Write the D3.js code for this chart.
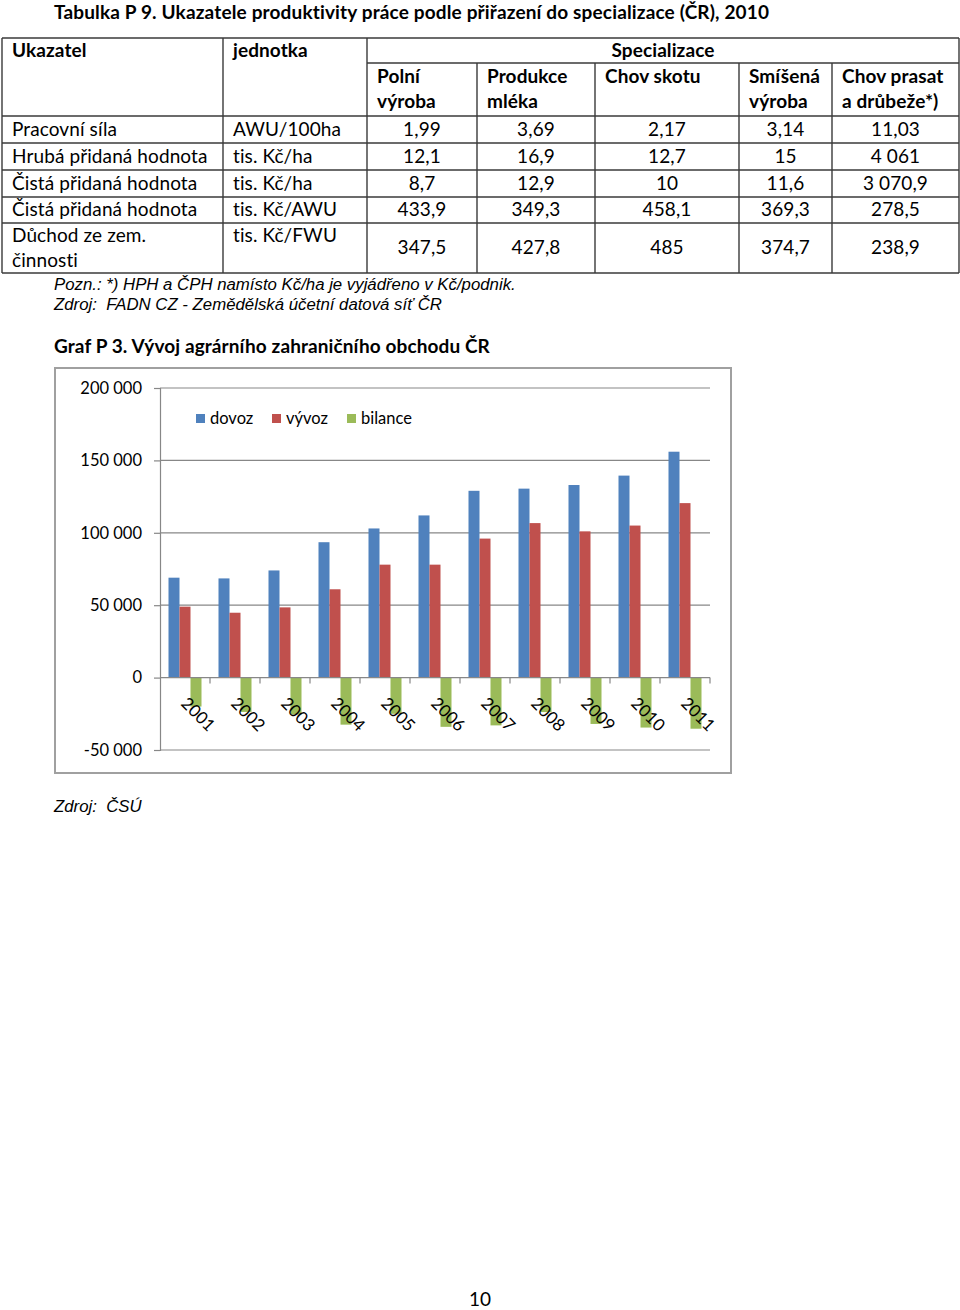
<!DOCTYPE html>
<html>
<head>
<meta charset="utf-8">
<script src="https://cdnjs.cloudflare.com/ajax/libs/d3/7.8.5/d3.min.js"></script>
<style>
  body { margin: 0; background: #fff; }
  svg { display: block; }
  .cal { font-family: Lato, "Open Sans", sans-serif; }
  .ari { font-family: "Liberation Sans", Arial, sans-serif; }
</style>
</head>
<body>
<svg id="page" width="960" height="1310"></svg>
<script>
// table data
var tableTitle = "Tabulka P 9. Ukazatele produktivity práce podle přiřazení do specializace (ČR), 2010";
var specHeaders = [["Polní", "výroba"], ["Produkce", "mléka"], ["Chov skotu"], ["Smíšená", "výroba"], ["Chov prasat", "a drůbeže*)"]];
var rowLabels = [["Pracovní síla"], ["Hrubá přidaná hodnota"], ["Čistá přidaná hodnota"], ["Čistá přidaná hodnota"], ["Důchod ze zem.", "činnosti"]];
var rowUnits = ["AWU/100ha", "tis. Kč/ha", "tis. Kč/ha", "tis. Kč/AWU", "tis. Kč/FWU"];
var rowValues = [
  ["1,99", "3,69", "2,17", "3,14", "11,03"],
  ["12,1", "16,9", "12,7", "15", "4 061"],
  ["8,7", "12,9", "10", "11,6", "3 070,9"],
  ["433,9", "349,3", "458,1", "369,3", "278,5"],
  ["347,5", "427,8", "485", "374,7", "238,9"]
];

// chart data
var years = ["2001", "2002", "2003", "2004", "2005", "2006", "2007", "2008", "2009", "2010", "2011"];
var series = ["dovoz", "vývoz", "bilance"];
var dovoz = [69000, 68500, 74000, 93500, 103000, 112000, 129000, 130500, 133000, 139500, 156000];
var vyvoz = [49000, 44800, 48500, 61000, 78000, 78000, 96000, 106700, 101000, 105000, 120500];
var bilance = [-20000, -23700, -25500, -32500, -25000, -34000, -33000, -23800, -32000, -34500, -35300];
var yTicks = [-50000, 0, 50000, 100000, 150000, 200000];

var svg = d3.select("#page");
var lineCol = "#3a3a3a";
var fs = 19;

// ---- table ----
svg.append("text")
  .attr("class", "cal")
  .attr("x", 54).attr("y", 19)
  .attr("font-size", 19).attr("letter-spacing", 0.15).attr("font-weight", "bold")
  .text(tableTitle);

var colX = [2, 223, 367, 477, 595, 739, 832, 959];
var rowY = [38, 63, 116, 143, 170, 197, 223, 273];

var tbl = svg.append("g").attr("class", "cal").attr("letter-spacing", 0.1);

// horizontal lines
rowY.forEach(function(y, i) {
  tbl.append("line")
    .attr("x1", i == 1 ? colX[2] : colX[0]).attr("x2", colX[7])
    .attr("y1", y).attr("y2", y)
    .attr("stroke", lineCol).attr("stroke-width", 1.4);
});
// vertical lines
colX.forEach(function(x, i) {
  var top = (i >= 3 && i <= 6) ? rowY[1] : rowY[0];
  tbl.append("line")
    .attr("x1", x).attr("x2", x)
    .attr("y1", top).attr("y2", rowY[7])
    .attr("stroke", lineCol).attr("stroke-width", 1.4);
});

tbl.append("text").attr("x", 12).attr("y", 57).attr("font-size", fs).attr("font-weight", "bold").text("Ukazatel");
tbl.append("text").attr("x", 233).attr("y", 57).attr("font-size", fs).attr("font-weight", "bold").text("jednotka");
tbl.append("text").attr("x", (colX[2] + colX[7]) / 2).attr("y", 57).attr("text-anchor", "middle")
  .attr("font-size", fs).attr("font-weight", "bold").text("Specializace");

specHeaders.forEach(function(h, i) {
  h.forEach(function(line, j) {
    tbl.append("text")
      .attr("x", colX[i + 2] + 10).attr("y", 83 + j * 25)
      .attr("font-size", fs).attr("font-weight", "bold")
      .text(line);
  });
});

rowLabels.forEach(function(lab, r) {
  var y0 = rowY[r + 2], y1 = rowY[r + 3];
  var mid = (y0 + y1) / 2 + 6;
  lab.forEach(function(line, j) {
    tbl.append("text")
      .attr("x", 12).attr("y", lab.length > 1 ? y0 + 19 + j * 25 : mid)
      .attr("font-size", fs).text(line);
  });
  tbl.append("text")
    .attr("x", 233).attr("y", lab.length > 1 ? y0 + 19 : mid)
    .attr("font-size", fs).text(rowUnits[r]);
  rowValues[r].forEach(function(v, c) {
    tbl.append("text")
      .attr("x", (colX[c + 2] + colX[c + 3]) / 2).attr("y", mid)
      .attr("text-anchor", "middle")
      .attr("font-size", fs).text(v);
  });
});

svg.append("text").attr("class", "ari").attr("x", 54).attr("y", 290)
  .attr("font-size", 16.8).attr("font-style", "italic")
  .text("Pozn.: *) HPH a ČPH namísto Kč/ha je vyjádřeno v Kč/podnik.");
svg.append("text").attr("class", "ari").attr("x", 54).attr("y", 310)
  .attr("font-size", 16.8).attr("font-style", "italic").attr("xml:space", "preserve")
  .text("Zdroj:  FADN CZ - Zemědělská účetní datová síť ČR");

// ---- chart ----
svg.append("text")
  .attr("class", "cal")
  .attr("x", 54).attr("y", 353)
  .attr("font-size", 19).attr("letter-spacing", 0.1).attr("font-weight", "bold")
  .text("Graf P 3. Vývoj agrárního zahraničního obchodu ČR");

svg.append("rect")
  .attr("x", 55).attr("y", 368).attr("width", 676).attr("height", 405)
  .attr("fill", "none").attr("stroke", "#a0a0a0").attr("stroke-width", 2);

var plotL = 160, plotR = 710, plotT = 388, plotB = 750;

var y = d3.scaleLinear()
  .domain([-50000, 200000])
  .range([plotB, plotT]);

var x0 = d3.scaleBand()
  .domain(years)
  .range([plotL, plotR])
  .paddingInner(0.34)
  .paddingOuter(0.17);

var xCat = d3.scaleBand()
  .domain(years)
  .range([plotL, plotR]);

var x1 = d3.scaleBand()
  .domain(series)
  .range([0, x0.bandwidth()]);

var color = d3.scaleOrdinal()
  .domain(series)
  .range(["#4f81bd", "#c0504d", "#9bbb59"]);

var chart = svg.append("g").attr("class", "cal");

// gridlines
chart.append("g")
  .selectAll("line")
  .data(yTicks.filter(function(d) { return d != 0; }))
  .enter()
  .append("line")
    .attr("x1", plotL).attr("x2", plotR)
    .attr("y1", function(d) { return y(d); })
    .attr("y2", function(d) { return y(d); })
    .attr("stroke", "#878787").attr("stroke-width", 1.2);

// y axis
var fmt = function(d) { return d3.format(",")(d).replace(/,/g, " ").replace("−", "-"); };
var yAxis = chart.append("g")
  .attr("transform", "translate(" + plotL + ",0)")
  .call(d3.axisLeft(y).tickValues(yTicks).tickSize(6).tickPadding(12).tickFormat(fmt));
yAxis.select(".domain").attr("stroke", "#878787").attr("stroke-width", 1.2);
yAxis.selectAll(".tick line").attr("stroke", "#878787").attr("stroke-width", 1.2);
yAxis.selectAll(".tick text")
  .attr("font-family", "Lato, sans-serif")
  .attr("font-size", 16.5).attr("fill", "#000");

// bars
var rows = years.map(function(yr, i) {
  return {year: yr, dovoz: dovoz[i], "vývoz": vyvoz[i], bilance: bilance[i]};
});

chart.append("g")
  .selectAll("g")
  .data(rows)
  .enter()
  .append("g")
    .attr("transform", function(d) { return "translate(" + x0(d.year) + ",0)"; })
  .selectAll("rect")
  .data(function(d) { return series.map(function(k) { return {key: k, value: d[k]}; }); })
  .enter()
  .append("rect")
    .attr("x", function(d) { return x1(d.key); })
    .attr("y", function(d) { return y(Math.max(0, d.value)); })
    .attr("width", x1.bandwidth())
    .attr("height", function(d) { return Math.abs(y(d.value) - y(0)); })
    .attr("fill", function(d) { return color(d.key); });

// category axis at zero
var xAxis = chart.append("g").attr("transform", "translate(0," + y(0) + ")");
xAxis.append("line")
  .attr("x1", plotL).attr("x2", plotR)
  .attr("stroke", "#878787").attr("stroke-width", 1.2);
xAxis.selectAll(".tk")
  .data(years.slice(1).concat(["end"]))
  .enter()
  .append("line")
    .attr("x1", function(d, i) { return plotL + xCat.step() * (i + 1); })
    .attr("x2", function(d, i) { return plotL + xCat.step() * (i + 1); })
    .attr("y1", 0).attr("y2", 6)
    .attr("stroke", "#878787").attr("stroke-width", 1.2);

xAxis.selectAll(".lab")
  .data(years)
  .enter()
  .append("text")
    .attr("transform", function(d) {
      return "translate(" + (xCat(d) + xCat.bandwidth() / 2 - 5) + ",27) rotate(45)";
    })
    .attr("font-size", 17)
    .text(function(d) { return d; });

// legend
var legX = [196, 272, 347];
var leg = chart.append("g")
  .selectAll("g")
  .data(series)
  .enter()
  .append("g")
    .attr("transform", function(d, i) { return "translate(" + legX[i] + ",414)"; });
leg.append("rect").attr("width", 9).attr("height", 9).attr("fill", function(d) { return color(d); });
leg.append("text").attr("x", 14).attr("y", 10).attr("font-size", 16.5).text(function(d) { return d; });

svg.append("text").attr("class", "ari").attr("x", 54).attr("y", 812)
  .attr("font-size", 16.8).attr("font-style", "italic").attr("xml:space", "preserve")
  .text("Zdroj:  ČSÚ");

svg.append("text").attr("class", "cal").attr("x", 480).attr("y", 1306)
  .attr("text-anchor", "middle").attr("font-size", 19).text("10");
</script>
</body>
</html>
